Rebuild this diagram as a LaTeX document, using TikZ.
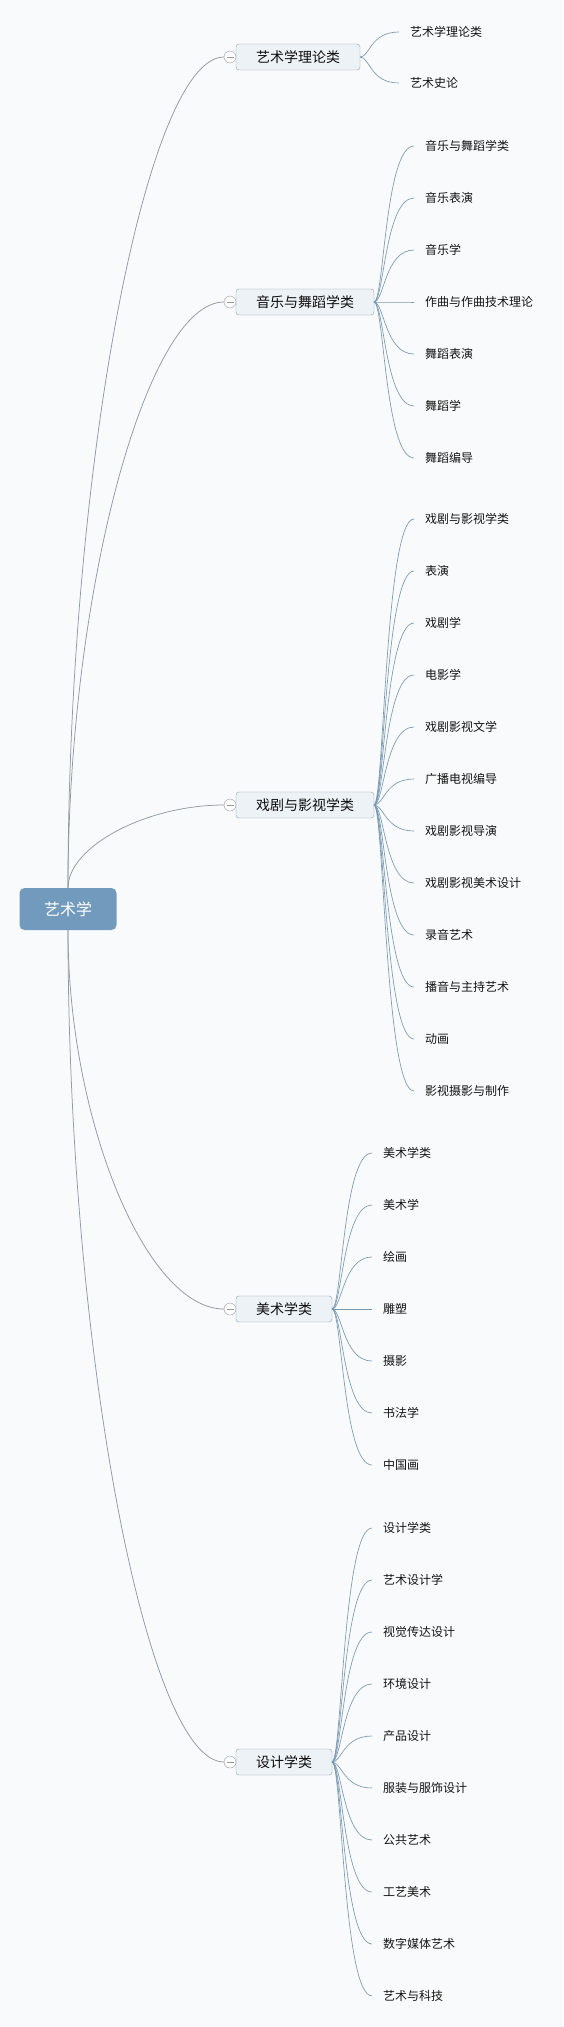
\documentclass[tikz,border=0pt]{standalone}
\usepackage{fontspec}
\setmainfont{Noto Sans CJK SC}
\usetikzlibrary{calc}

\definecolor{paper}{RGB}{249,250,251}
\definecolor{rootblue}{RGB}{114,154,189}
\definecolor{boxfill}{RGB}{237,242,246}
\definecolor{boxline}{RGB}{145,161,176}
\definecolor{limbgray}{RGB}{145,153,161}
\definecolor{twigblue}{RGB}{120,152,177}

\begin{document}
\begin{tikzpicture}[x=1pt, y=-1pt, every node/.style={outer sep=0pt},
  centre/.style={rectangle, rounded corners=5pt, fill=rootblue, text=white, minimum width=97pt, minimum height=42pt, font=\fontsize{16}{18}\selectfont},
  branch/.style={rectangle, rounded corners=3pt, draw=boxline, fill=boxfill, anchor=west, inner xsep=20pt, inner ysep=0pt, minimum height=26pt, text=black!95, font=\fontsize{14}{16}\selectfont},
  knob/.style={circle, draw=gray!80, fill=white, minimum size=12pt, inner sep=0pt, path picture={\draw[gray!80, line width=0.6pt] ([xshift=2.5pt]path picture bounding box.west) -- ([xshift=-2.5pt]path picture bounding box.east);}},
  leaf/.style={anchor=west, inner xsep=11pt, inner ysep=0pt, text=black!92, font=\fontsize{12}{14}\selectfont},
  limb/.style={draw=limbgray, line width=0.75pt, to path={.. controls ($(\tikztostart)!.5!(\tikztostart|-\tikztotarget)$) and ($(\tikztotarget)!.5!(\tikztostart|-\tikztotarget)$) .. (\tikztotarget)}},
  twig/.style={draw=twigblue, line width=0.65pt, to path={.. controls +(10,0) and +(-29,0) .. (\tikztotarget)}}]
\fill[paper] (0,0) rectangle (563,2027);
\useasboundingbox (0,0) rectangle (563,2027);

\node[centre] (root) at (68,909) {艺术学};

\node[branch] (b1) at (236,57) {艺术学理论类};
\node[branch] (b2) at (236,302) {音乐与舞蹈学类};
\node[branch] (b3) at (236,805) {戏剧与影视学类};
\node[branch] (b4) at (236,1309) {美术学类};
\node[branch] (b5) at (236,1762) {设计学类};

\node[knob] (k1) at (230,57) {};
\node[knob] (k2) at (230,302) {};
\node[knob] (k3) at (230,805) {};
\node[knob] (k4) at (230,1309) {};
\node[knob] (k5) at (230,1762) {};

\node[leaf] (t1) at (399,32) {艺术学理论类};
\node[leaf] (t2) at (399,83) {艺术史论};

\node[leaf] (m1) at (414,146) {音乐与舞蹈学类};
\node[leaf] (m2) at (414,198) {音乐表演};
\node[leaf] (m3) at (414,250) {音乐学};
\node[leaf] (m4) at (414,302) {作曲与作曲技术理论};
\node[leaf] (m5) at (414,354) {舞蹈表演};
\node[leaf] (m6) at (414,406) {舞蹈学};
\node[leaf] (m7) at (414,458) {舞蹈编导};

\node[leaf] (d1) at (414,519) {戏剧与影视学类};
\node[leaf] (d2) at (414,571) {表演};
\node[leaf] (d3) at (414,623) {戏剧学};
\node[leaf] (d4) at (414,675) {电影学};
\node[leaf] (d5) at (414,727) {戏剧影视文学};
\node[leaf] (d6) at (414,779) {广播电视编导};
\node[leaf] (d7) at (414,831) {戏剧影视导演};
\node[leaf] (d8) at (414,883) {戏剧影视美术设计};
\node[leaf] (d9) at (414,935) {录音艺术};
\node[leaf] (d10) at (414,987) {播音与主持艺术};
\node[leaf] (d11) at (414,1039) {动画};
\node[leaf] (d12) at (414,1091) {影视摄影与制作};

\node[leaf] (f1) at (372,1153) {美术学类};
\node[leaf] (f2) at (372,1205) {美术学};
\node[leaf] (f3) at (372,1257) {绘画};
\node[leaf] (f4) at (372,1309) {雕塑};
\node[leaf] (f5) at (372,1361) {摄影};
\node[leaf] (f6) at (372,1413) {书法学};
\node[leaf] (f7) at (372,1465) {中国画};

\node[leaf] (s1) at (372,1528) {设计学类};
\node[leaf] (s2) at (372,1580) {艺术设计学};
\node[leaf] (s3) at (372,1632) {视觉传达设计};
\node[leaf] (s4) at (372,1684) {环境设计};
\node[leaf] (s5) at (372,1736) {产品设计};
\node[leaf] (s6) at (372,1788) {服装与服饰设计};
\node[leaf] (s7) at (372,1840) {公共艺术};
\node[leaf] (s8) at (372,1892) {工艺美术};
\node[leaf] (s9) at (372,1944) {数字媒体艺术};
\node[leaf] (s10) at (372,1996) {艺术与科技};

\draw[limb] (root.north) to (k1.west);
\draw[limb] (root.north) to (k2.west);
\draw[limb] (root.north) to (k3.west);
\draw[limb] (root.south) to (k4.west);
\draw[limb] (root.south) to (k5.west);

\draw[twig] (b1.east) to (t1.west);
\draw[twig] (b1.east) to (t2.west);

\draw[twig] (b2.east) to (m1.west);
\draw[twig] (b2.east) to (m2.west);
\draw[twig] (b2.east) to (m3.west);
\draw[twig] (b2.east) to (m4.west);
\draw[twig] (b2.east) to (m5.west);
\draw[twig] (b2.east) to (m6.west);
\draw[twig] (b2.east) to (m7.west);

\draw[twig] (b3.east) to (d1.west);
\draw[twig] (b3.east) to (d2.west);
\draw[twig] (b3.east) to (d3.west);
\draw[twig] (b3.east) to (d4.west);
\draw[twig] (b3.east) to (d5.west);
\draw[twig] (b3.east) to (d6.west);
\draw[twig] (b3.east) to (d7.west);
\draw[twig] (b3.east) to (d8.west);
\draw[twig] (b3.east) to (d9.west);
\draw[twig] (b3.east) to (d10.west);
\draw[twig] (b3.east) to (d11.west);
\draw[twig] (b3.east) to (d12.west);

\draw[twig] (b4.east) to (f1.west);
\draw[twig] (b4.east) to (f2.west);
\draw[twig] (b4.east) to (f3.west);
\draw[twig] (b4.east) to (f4.west);
\draw[twig] (b4.east) to (f5.west);
\draw[twig] (b4.east) to (f6.west);
\draw[twig] (b4.east) to (f7.west);

\draw[twig] (b5.east) to (s1.west);
\draw[twig] (b5.east) to (s2.west);
\draw[twig] (b5.east) to (s3.west);
\draw[twig] (b5.east) to (s4.west);
\draw[twig] (b5.east) to (s5.west);
\draw[twig] (b5.east) to (s6.west);
\draw[twig] (b5.east) to (s7.west);
\draw[twig] (b5.east) to (s8.west);
\draw[twig] (b5.east) to (s9.west);
\draw[twig] (b5.east) to (s10.west);
\end{tikzpicture}
\end{document}
